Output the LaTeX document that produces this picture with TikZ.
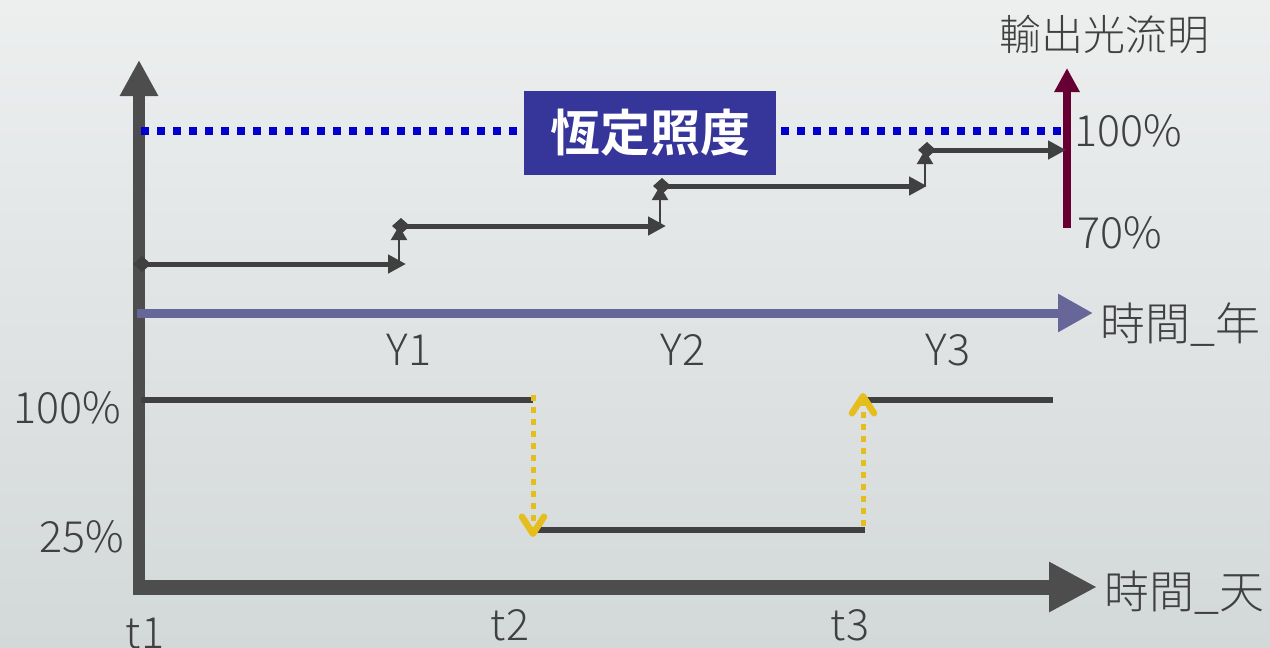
\documentclass[tikz,border=0pt]{standalone}
\usepackage{fontspec}
\setmainfont{Noto Sans CJK TC Light}
\newfontfamily\boldcjk{Noto Sans CJK JP Bold}
\usetikzlibrary{arrows.meta}
\definecolor{bgtop}{RGB}{237,239,239}
\definecolor{bgbot}{RGB}{211,216,217}
\definecolor{axisgray}{RGB}{77,77,77}
\definecolor{stepgray}{RGB}{64,64,64}
\definecolor{txtgray}{RGB}{64,64,64}
\definecolor{dotblue}{RGB}{0,0,204}
\definecolor{boxblue}{RGB}{53,53,154}
\definecolor{wine}{RGB}{102,0,51}
\definecolor{slate}{RGB}{102,102,153}
\definecolor{gold}{RGB}{229,190,30}
\tikzset{
  lbl/.style={text=txtgray, inner sep=0pt, font=\fontsize{43}{48}\selectfont},
  cjklbl/.style={text=txtgray, inner sep=0pt, font=\fontsize{45}{50}\selectfont},
  axisline/.style={draw=axisgray, line width=12pt},
  stepline/.style={draw=stepgray, line width=5pt, {Diamond[length=18pt,width=16pt]}-{Triangle[length=18pt,width=18pt]}},
  riser/.style={draw=stepgray, line width=2pt, -{Triangle[length=14pt,width=16pt]}},
  levelline/.style={draw=stepgray, line width=6pt},
  goldarrow/.style={draw=gold, line width=5pt, dash pattern=on 6pt off 6pt, -{Straight Barb[length=17pt,width=22pt,line width=6.5pt,line cap=round, line join=round]}},
}
\begin{document}
\begin{tikzpicture}[x=1pt,y=-1pt]
\shade[top color=bgtop, bottom color=bgbot] (0,0) rectangle (1270,648);
\useasboundingbox (0,0) rectangle (1270,648);
% axes
\coordinate (o) at (139,595);
\coordinate (ytop) at (139,60);
\coordinate (x0) at (133,587);
\coordinate (xend) at (1097,587);
\draw[axisline, -{Triangle[length=36pt,width=36pt]}] (o) -- (ytop);
\draw[draw=axisgray, line width=15pt, -{Triangle[length=48pt,width=47pt]}] (x0) -- (xend);
% constant illuminance dotted line and box
\node[fill=boxblue, text=white, minimum width=252pt, minimum height=84pt, inner sep=0pt,
      font=\boldcjk\fontsize{50}{54}\selectfont] (box) at (650,133) {恆定照度};
\coordinate (d0) at (141,131);
\coordinate (d1) at (1063,131);
\draw[dotblue, line width=8pt, dash pattern=on 8pt off 8pt] (d0) -- ([xshift=-7pt]box.west |- d0);
\draw[dotblue, line width=8pt, dash pattern=on 8pt off 8pt] ([xshift=5pt]box.east |- d0) -- (d1);
% lumen output arrow
\coordinate (w0) at (1067,228);
\coordinate (w1) at (1067,68);
\draw[wine, line width=8pt, -{Triangle[length=24pt,width=24pt]}] (w0) -- (w1);
\node[cjklbl, font=\fontsize{42}{46}\selectfont] (lum) at (1104,34) {輸出光流明};
\node[lbl, anchor=west] (p100r) at (1074,131) {100\%};
\node[lbl, anchor=west] (p70) at (1077,233) {70\%};
% steps
\coordinate (s1a) at (133,264); \coordinate (s1b) at (406,264);
\coordinate (s2a) at (392,226); \coordinate (s2b) at (666,226);
\coordinate (s3a) at (653,186); \coordinate (s3b) at (927,186);
\coordinate (s4a) at (918,150); \coordinate (s4b) at (1066,150);
\draw[riser] (399,264) -- (399,226);
\draw[riser] (660,226) -- (660,186);
\draw[riser] (925,186) -- (925,150);
\draw[stepline] (s1a) -- (s1b);
\draw[stepline] (s2a) -- (s2b);
\draw[stepline] (s3a) -- (s3b);
\draw[stepline] (s4a) -- (s4b);
% years axis
\coordinate (ya) at (137,313);
\coordinate (yb) at (1093,313);
\draw[slate, line width=9pt, -{Triangle[length=35pt,width=36pt]}] (ya) -- (yb);
\node[cjklbl, anchor=west] (tyear) at (1100,325) {時間\_年};
\node[lbl] (y1) at (409,350) {Y1};
\node[lbl] (y2) at (683,350) {Y2};
\node[lbl] (y3) at (948,350) {Y3};
% daily dimming
\coordinate (l1a) at (141,400); \coordinate (l1b) at (533,400);
\coordinate (l2a) at (533,530); \coordinate (l2b) at (865,530);
\coordinate (l3a) at (863,400); \coordinate (l3b) at (1053,400);
\draw[levelline] (l1a) -- (l1b);
\draw[levelline] (l2a) -- (l2b);
\draw[levelline] (l3a) -- (l3b);
\draw[goldarrow] ([yshift=5pt]l1b) -- ([yshift=-7pt]l2a);
\draw[goldarrow] (863,526) -- ([yshift=7pt]l3a);
\node[lbl, anchor=east] (p100l) at (121,408) {100\%};
\node[lbl, anchor=east] (p25) at (124,537) {25\%};
\node[cjklbl, anchor=west] (tday) at (1104,593) {時間\_天};
\node[lbl] (t1) at (145,634) {t1};
\node[lbl] (t2) at (510,625) {t2};
\node[lbl] (t3) at (850,625) {t3};
\end{tikzpicture}
\end{document}
